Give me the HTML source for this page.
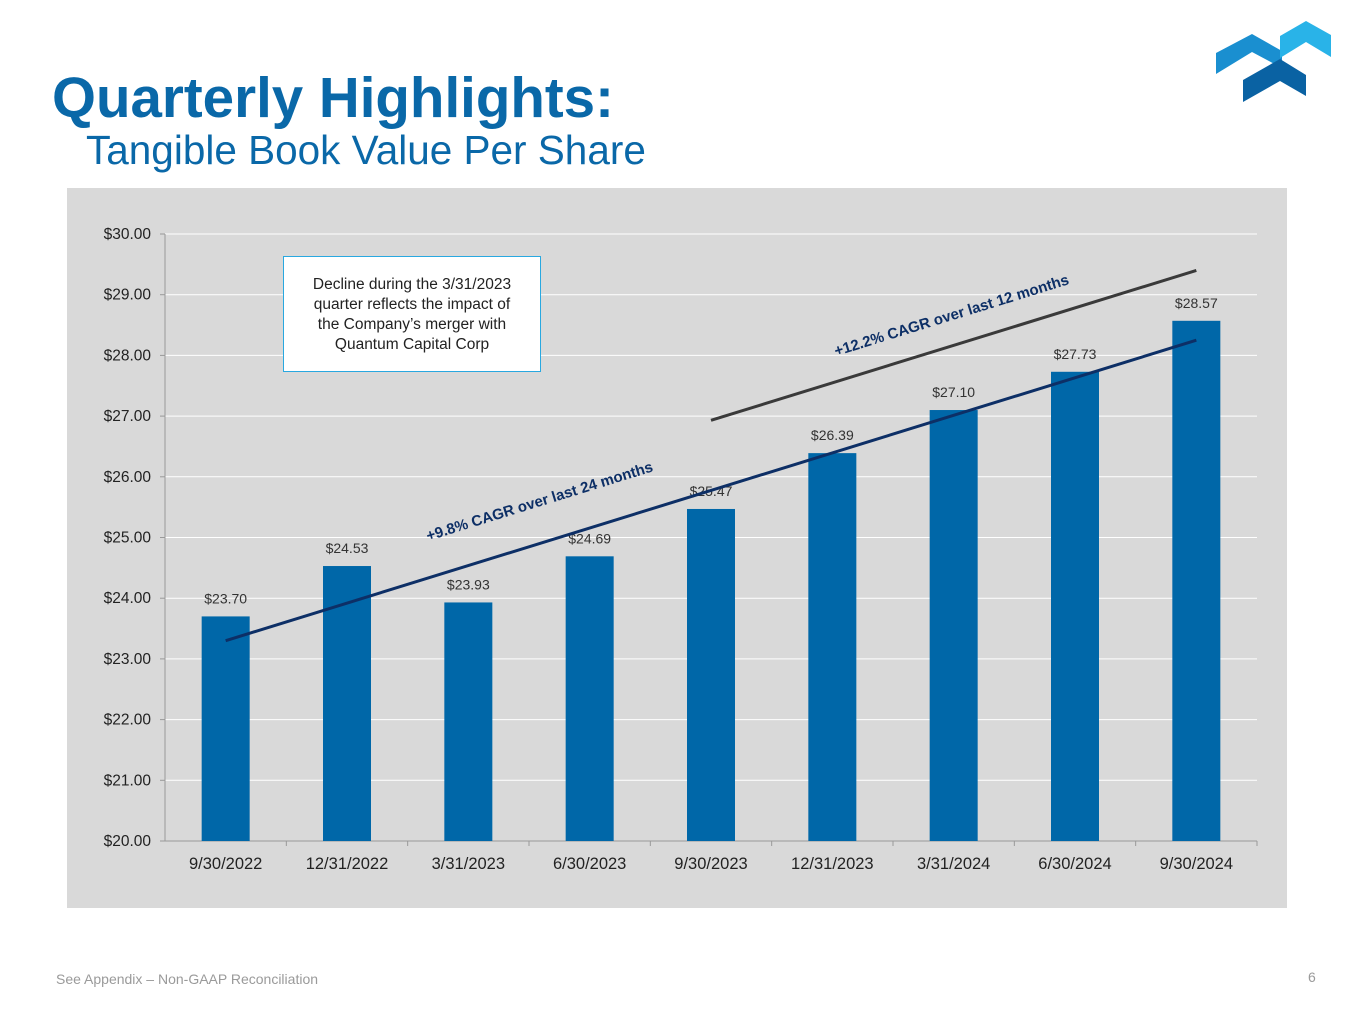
<!DOCTYPE html>
<html><head><meta charset="utf-8"><style>
body{margin:0;width:1365px;height:1024px;background:#fff;font-family:"Liberation Sans",Arial,sans-serif;position:relative;overflow:hidden}
.abs{position:absolute}
</style></head><body>
<div class="abs" style="left:52px;top:65px;font-size:56.5px;font-weight:bold;color:#0a68a8">Quarterly Highlights:</div>
<div class="abs" style="left:86px;top:127px;font-size:40.5px;color:#0a68a8">Tangible Book Value Per Share</div>
<svg class="abs" style="left:0;top:0" width="1365" height="120">
<polygon points="1216,53 1252,34 1282,51 1282,68 1252,52 1216,74" fill="#1a8fd0"/>
<polygon points="1280,36 1306,21 1331,35 1331,57 1306,42 1280,58" fill="#29b3e8"/>
<polygon points="1243,80 1280,59 1306,75 1306,96 1280,81 1243,102" fill="#0a62a3"/>
</svg>
<div class="abs" style="left:67px;top:188px;width:1220px;height:720px;background:#d9d9d9"></div>
<svg id="chart" class="abs" style="left:0;top:0" width="1365" height="1024"></svg>
<div class="abs" style="left:283px;top:256px;width:258px;height:116px;background:#fff;border:1px solid #29a8e0;font-size:15.5px;text-align:center;line-height:20px;color:#222;box-sizing:border-box;padding-top:18px">Decline during the 3/31/2023<br>quarter reflects the impact of<br>the Company’s merger with<br>Quantum Capital Corp</div>
<div class="abs" style="left:56px;top:971px;font-size:14px;color:#9a9a9a">See Appendix – Non-GAAP Reconciliation</div>
<div class="abs" style="left:1308px;top:969px;font-size:14px;color:#9a9a9a">6</div>
<script>
const categories=["9/30/2022","12/31/2022","3/31/2023","6/30/2023","9/30/2023","12/31/2023","3/31/2024","6/30/2024","9/30/2024"];
const values=[23.70,24.53,23.93,24.69,25.47,26.39,27.10,27.73,28.57];
const yTicks=[20,21,22,23,24,25,26,27,28,29,30];
const trend24=[23.30,28.25];
const trend12=[26.93,29.40];
const NS="http://www.w3.org/2000/svg";
const svg=document.getElementById('chart');
const X0=165,X1=1257,Y0=841,Y1=234;
const step=(X1-X0)/categories.length;
const xc=i=>X0+step*(i+0.5);
const y=v=>Y0-(v-20)/(30-20)*(Y0-Y1);
function mk(t,a){const e=document.createElementNS(NS,t);for(const k in a)e.setAttribute(k,a[k]);svg.appendChild(e);return e;}
yTicks.forEach(v=>{
 const g=mk('line',{x1:X0,x2:X1,y1:y(v),y2:y(v),stroke:v==20?'#999':'#fff','stroke-width':1});
 
 
 const tk=mk('line',{x1:X0-5,x2:X0,y1:y(v),y2:y(v),stroke:'#999'});
 
 
 const t=mk('text',{x:X0-14,y:y(v)+5,'text-anchor':'end','font-size':15.5,fill:'#222'});
 t.textContent='$'+v.toFixed(2);
 
 
});
const ax=mk('line',{x1:X0,x2:X0,y1:Y1,y2:Y0,stroke:'#999'});


categories.forEach((c,i)=>{
 const tk=mk('line',{x1:X0+step*(i+1),x2:X0+step*(i+1),y1:Y0,y2:Y0+5,stroke:'#999'});
 
 
 const b=mk('rect',{x:xc(i)-24,y:y(values[i]),width:48,height:Y0-y(values[i]),fill:'#0067a8'});
 
 
 const l=mk('text',{x:xc(i),y:y(values[i])-13,'text-anchor':'middle','font-size':14,fill:'#333'});
 l.textContent='$'+values[i].toFixed(2);
 
 
 const t=mk('text',{x:xc(i),y:Y0+28,'text-anchor':'middle','font-size':16.5,fill:'#222'});
 t.textContent=c;
 
 
});
function trend(a,i0,i1,col,name){
 const x1=xc(i0),y1=y(a[0]),x2=xc(i1),y2=y(a[1]);
 const l=mk('line',{x1:x1,y1:y1,x2:x2,y2:y2,stroke:col,'stroke-width':3});
 
 
 return Math.atan2(y2-y1,x2-x1)*180/Math.PI;
}
const a1=trend(trend24,0,8,'#0d2f66','trend-line-24m');
const a2=trend(trend12,4,8,'#3a3a3a','trend-line-12m');
const t1=mk('text',{x:541,y:506,'text-anchor':'middle','font-size':15,'font-weight':'bold',fill:'#0d2f66',transform:`rotate(${a1} 541 506)`});
t1.textContent='+9.8% CAGR over last 24 months';


const t2=mk('text',{x:953,y:320,'text-anchor':'middle','font-size':15,'font-weight':'bold',fill:'#0d2f66',transform:`rotate(${a2} 953 320)`});
t2.textContent='+12.2% CAGR over last 12 months';


</script>
</body></html>
